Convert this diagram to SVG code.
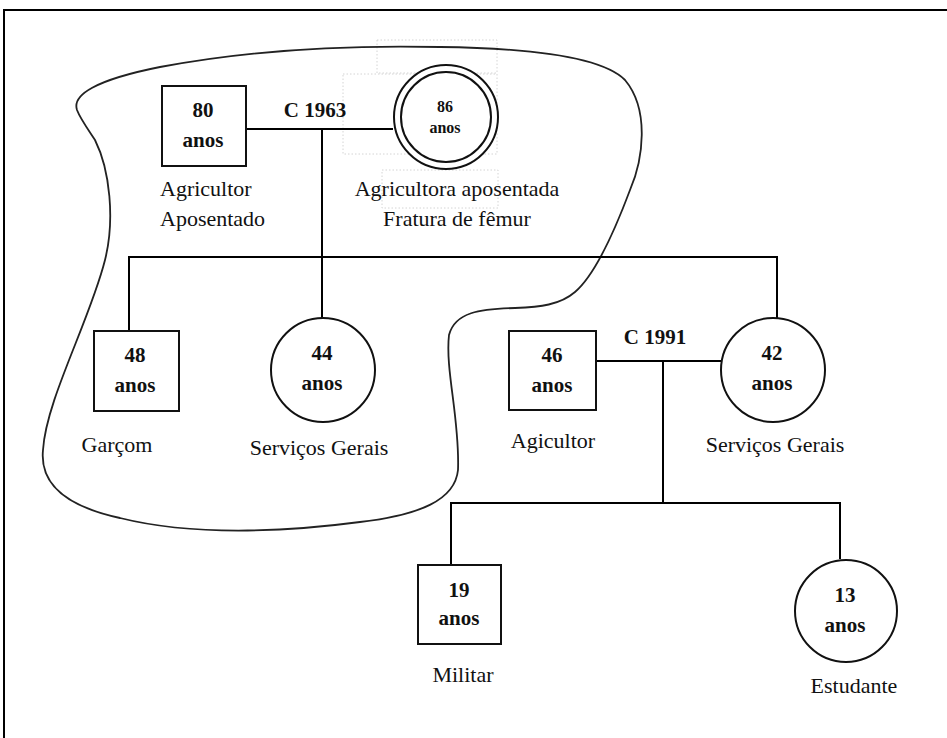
<svg xmlns="http://www.w3.org/2000/svg" width="947" height="738" viewBox="0 0 947 738">
<style>
.ln{stroke:#000;stroke-width:2;fill:none}
.nd{stroke:#111;stroke-width:2;fill:#fff}
.num{font-family:"Liberation Serif","Times New Roman",serif;font-weight:bold;font-size:21px;fill:#111;text-anchor:middle}
.sm{font-size:16px}
.lab{font-family:"Liberation Serif","Times New Roman",serif;font-size:22px;fill:#111;text-anchor:middle}
.dot{stroke:#d4d4d4;stroke-width:1;stroke-dasharray:1.5 2;fill:none}
</style>
<rect width="947" height="738" fill="#fff"/>
<g id="frame"><path class="ln" d="M4,738 V10 H947" stroke-width="2.5"/></g>
<g id="textboxes">
<rect class="dot" x="377" y="40" width="120" height="33"/>
<rect class="dot" x="343" y="74" width="154" height="80"/>
<rect class="dot" x="382" y="170" width="116" height="38"/>
</g>
<g id="household">
<path d="M77,110 C72,95 95,80 160,67 C250,50 350,45 440,47 C520,48 600,55 625,80 C650,110 643,160 630,190 C615,230 595,275 575,292 C560,305 540,307 515,308 C480,309 455,312 449,335 C445,370 460,420 458,470 C455,500 420,515 360,522 C300,530 200,538 120,518 C60,505 40,480 43,450 C46,400 90,320 105,260 C115,220 110,170 95,140 C85,125 80,118 77,110 Z" fill="none" stroke="#222" stroke-width="1.8"/>
</g>
<g id="connectors">
<path class="ln" d="M246,129 H393"/>
<path class="ln" d="M322,129 V318"/>
<path class="ln" d="M129,331 V257 H777 V318"/>
<path class="ln" d="M596,361 H721"/>
<path class="ln" d="M663,361 V503"/>
<path class="ln" d="M451,565 V503 H840 V559"/>
<text class="num" x="315" y="117">C 1963</text>
<text class="num" x="655" y="344">C 1991</text>
</g>
<g id="n80">
<rect class="nd" x="162" y="86" width="84" height="80"/>
<text class="num" x="203" y="117">80</text>
<text class="num" x="203" y="147">anos</text>
<text class="lab" x="160" y="196" text-anchor="start" style="text-anchor:start">Agricultor</text>
<text class="lab" x="160" y="226" style="text-anchor:start">Aposentado</text>
</g>
<g id="n86">
<circle class="nd" cx="446" cy="117" r="52"/>
<circle class="nd" cx="446" cy="117" r="45"/>
<text class="num sm" x="445" y="112">86</text>
<text class="num sm" x="445" y="133">anos</text>
<text class="lab" x="457" y="196">Agricultora aposentada</text>
<text class="lab" x="457" y="226">Fratura de fêmur</text>
</g>
<g id="n48">
<rect class="nd" x="94" y="331" width="85" height="80"/>
<text class="num" x="135" y="362">48</text>
<text class="num" x="135" y="392">anos</text>
<text class="lab" x="117" y="452">Garçom</text>
</g>
<g id="n44">
<circle class="nd" cx="323" cy="370" r="52"/>
<text class="num" x="322" y="360">44</text>
<text class="num" x="322" y="390">anos</text>
<text class="lab" x="319" y="455">Serviços Gerais</text>
</g>
<g id="n46">
<rect class="nd" x="509" y="331" width="87" height="79"/>
<text class="num" x="552" y="362">46</text>
<text class="num" x="552" y="392">anos</text>
<text class="lab" x="553" y="448">Agicultor</text>
</g>
<g id="n42">
<circle class="nd" cx="773" cy="370" r="52"/>
<text class="num" x="772" y="360">42</text>
<text class="num" x="772" y="390">anos</text>
<text class="lab" x="775" y="452">Serviços Gerais</text>
</g>
<g id="n19">
<rect class="nd" x="418" y="565" width="83" height="79"/>
<text class="num" x="459" y="597">19</text>
<text class="num" x="459" y="625">anos</text>
<text class="lab" x="463" y="682">Militar</text>
</g>
<g id="n13">
<circle class="nd" cx="846" cy="611" r="51"/>
<text class="num" x="845" y="602">13</text>
<text class="num" x="845" y="632">anos</text>
<text class="lab" x="854" y="693">Estudante</text>
</g>
</svg>
